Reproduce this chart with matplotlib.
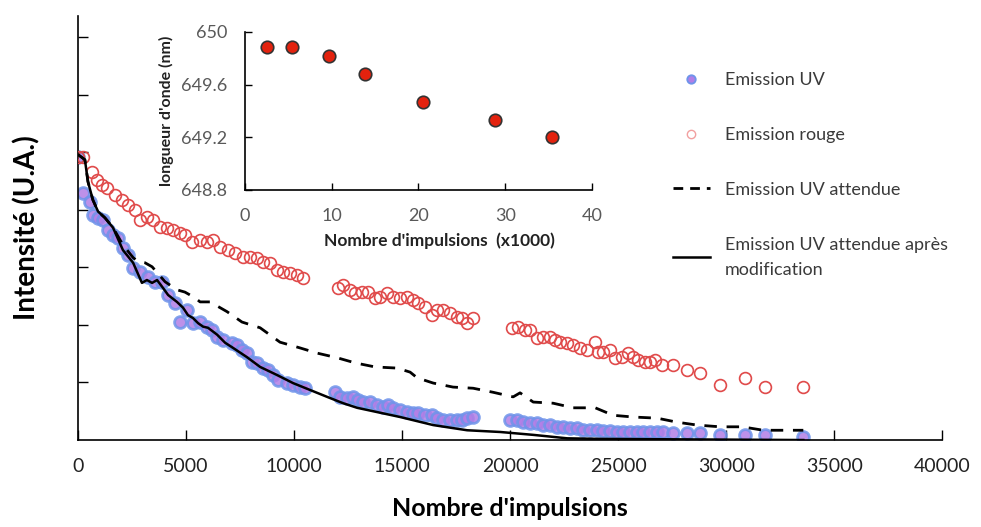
import matplotlib.pyplot as plt
from matplotlib.lines import Line2D

plt.rcParams['font.family'] = ['Lato', 'DejaVu Sans']

# Emission UV (filled circles), three measurement runs
uv_x1 = [0, 230, 560, 690, 930, 1160, 1390, 1620, 1850, 2080, 2320, 2550, 2870, 3240, 3570, 3890, 4170, 4490,
         4720, 5050, 5320, 5650, 5970, 6200, 6440, 6710, 7130, 7360, 7590, 7820, 8060, 8290, 8570, 8800, 9030,
         9260, 9680, 9950, 10280, 10510]
uv_y1 = [4.92, 4.30, 4.14, 3.91, 3.86, 3.83, 3.65, 3.57, 3.51, 3.34, 3.22, 2.99, 2.92, 2.83, 2.75, 2.75, 2.52, 2.38,
         2.05, 2.26, 2.03, 2.05, 1.97, 1.91, 1.79, 1.74, 1.69, 1.65, 1.57, 1.51, 1.36, 1.34, 1.25, 1.22, 1.13,
         1.04, 0.99, 0.96, 0.92, 0.90]
uv_x2 = [11900, 12130, 12450, 12730, 12960, 13200, 13520, 13840, 14120, 14350, 14580, 14910, 15230, 15510, 15740,
         16070, 16390, 16620, 16900, 17220, 17550, 17780, 18010, 18290]
uv_y2 = [0.83, 0.75, 0.73, 0.75, 0.70, 0.66, 0.66, 0.61, 0.57, 0.61, 0.56, 0.52, 0.49, 0.47, 0.47, 0.43, 0.43, 0.38,
         0.35, 0.35, 0.35, 0.35, 0.38, 0.40]
uv_x3 = [20000, 20330, 20600, 20930, 21250, 21530, 21850, 22180, 22460, 22780, 23100, 23380, 23710, 24030, 24310,
         24630, 24960, 25230, 25560, 25880, 26160, 26480, 26810, 27090, 27550, 28190, 28790, 29720, 30880, 31810,
         33570]
uv_y3 = [0.35, 0.35, 0.31, 0.30, 0.30, 0.26, 0.26, 0.23, 0.23, 0.21, 0.21, 0.17, 0.17, 0.17, 0.16, 0.16, 0.14, 0.14,
         0.14, 0.14, 0.14, 0.14, 0.14, 0.14, 0.12, 0.12, 0.12, 0.09, 0.09, 0.09, 0.05]

# Emission rouge (open circles)
rouge_x1 = [0, 230, 650, 880, 1110, 1340, 1710, 2040, 2320, 2640, 2870, 3190, 3470, 3800, 4120, 4400, 4720, 4950,
            5280, 5650, 5970, 6250, 6570, 6950, 7270, 7640, 7960, 8290, 8570, 8890, 9210, 9490, 9820, 10140, 10420]
rouge_y1 = [4.92, 4.92, 4.66, 4.52, 4.43, 4.38, 4.26, 4.17, 4.09, 4.00, 3.83, 3.88, 3.83, 3.70, 3.69, 3.65, 3.60,
            3.57, 3.44, 3.48, 3.44, 3.48, 3.36, 3.30, 3.25, 3.18, 3.18, 3.17, 3.10, 3.08, 2.96, 2.92, 2.90, 2.87, 2.82]
rouge_x2 = [12040, 12270, 12590, 12830, 13150, 13430, 13750, 13980, 14310, 14580, 14910, 15230, 15510, 15740, 16070,
            16390, 16620, 16900, 17220, 17550, 17780, 18010, 18290]
rouge_y2 = [2.64, 2.70, 2.61, 2.56, 2.57, 2.57, 2.47, 2.49, 2.56, 2.49, 2.47, 2.49, 2.43, 2.38, 2.31, 2.17, 2.26,
            2.26, 2.21, 2.14, 2.12, 2.03, 2.12]
rouge_x3 = [20090, 20370, 20700, 20930, 21250, 21530, 21850, 22090, 22320, 22640, 22920, 23240, 23570, 23940, 24080,
            24310, 24640, 24860, 25190, 25470, 25700, 25930, 26250, 26480, 26720, 27040, 27550, 28190, 28800, 29720,
            30880, 31810, 33570]
rouge_y3 = [1.95, 1.97, 1.91, 1.91, 1.77, 1.79, 1.79, 1.74, 1.70, 1.69, 1.65, 1.60, 1.57, 1.70, 1.53, 1.53, 1.57,
            1.43, 1.44, 1.51, 1.44, 1.39, 1.36, 1.36, 1.39, 1.30, 1.30, 1.22, 1.17, 0.96, 1.08, 0.92, 0.92]

# Emission UV attendue (dashed)
att_x = [0, 320, 460, 690, 930, 1250, 1620, 2080, 2550, 2780, 3100, 3430, 4030, 4580, 4950, 5420, 5650, 6110, 6900,
         7590, 8430, 9350, 10280, 11070, 11990, 12830, 13750, 14770, 15370, 15700, 16440, 17360, 18290, 19210,
         20140, 20460, 21070, 21990, 22920, 23940, 24770, 25700, 26810, 27730, 28660, 29720, 30740, 31720, 32640,
         33570]
att_y = [4.96, 4.87, 4.49, 4.17, 3.97, 3.86, 3.69, 3.39, 3.17, 3.10, 3.08, 3.01, 2.75, 2.61, 2.57, 2.47, 2.40, 2.40,
         2.23, 2.05, 1.95, 1.70, 1.60, 1.51, 1.43, 1.34, 1.27, 1.25, 1.18, 1.08, 0.99, 0.92, 0.90, 0.83, 0.75, 0.82,
         0.66, 0.64, 0.56, 0.56, 0.43, 0.40, 0.38, 0.31, 0.26, 0.23, 0.23, 0.17, 0.17, 0.17]

# Emission UV attendue apres modification (solid)
mod_x = [0, 320, 460, 690, 930, 1250, 1620, 2080, 2550, 2960, 3190, 3430, 3660, 3940, 4170, 4580, 4860, 5090, 5320,
         5560, 5790, 6020, 6440, 6810, 7180, 7820, 8430, 9210, 9950, 10740, 11530, 12270, 12920, 14910, 16440,
         18010, 19540, 21070, 22640, 24170, 28800, 33570]
mod_y = [4.96, 4.87, 4.49, 4.17, 3.97, 3.86, 3.69, 3.30, 3.08, 2.73, 2.78, 2.73, 2.78, 2.64, 2.52, 2.40, 2.30, 2.17,
         2.12, 2.03, 1.97, 1.95, 1.83, 1.69, 1.60, 1.44, 1.27, 1.13, 0.99, 0.87, 0.75, 0.64, 0.56, 0.40, 0.26, 0.17,
         0.14, 0.09, 0.03, 0.02, 0.01, 0.0]

# encart : longueur d'onde
enc_x = [2.5, 5.45, 9.67, 13.8, 20.5, 28.8, 35.4]
enc_y = [649.886, 649.886, 649.82, 649.68, 649.47, 649.33, 649.20]

fig = plt.figure(figsize=(9.81, 5.27), dpi=100)
ax = fig.add_axes([0.0795, 0.165, 0.881, 0.805])

uv_face = '#b27ee6'
uv_edge = '#6f94ea'
rouge = '#e04a4a'

for xs, ys in [(uv_x1, uv_y1), (uv_x2, uv_y2), (uv_x3, uv_y3)]:
    ax.plot(xs, ys, 'o', ms=8.5, mfc=uv_face, mec=uv_edge, mew=2, alpha=0.85, zorder=2)
for xs, ys in [(rouge_x1, rouge_y1), (rouge_x2, rouge_y2), (rouge_x3, rouge_y3)]:
    ax.plot(xs, ys, 'o', ms=8.5, mfc='none', mec=rouge, mew=1.2, zorder=3)
ax.plot(att_x, att_y, color='black', lw=2, dashes=(4.5, 3.5), zorder=4)
ax.plot(mod_x, mod_y, color='black', lw=1.8, zorder=5)

ax.set_xlim(0, 40000)
ax.set_ylim(0, 7.37)
ax.set_xticks(range(0, 40001, 5000))
ax.set_yticks([1, 2, 3, 4, 5, 6, 7])
ax.set_yticklabels([])
ax.tick_params(direction='in', length=7, width=1, colors='black', labelsize=14, pad=13)
ax.tick_params(axis='x', labelcolor='#222222')
for s in ['top', 'right']:
    ax.spines[s].set_visible(False)
for s in ['left', 'bottom']:
    ax.spines[s].set_linewidth(1.2)
ax.set_xlabel("Nombre d'impulsions", fontsize=18, fontweight='bold', labelpad=16)
ax.set_ylabel('Intensité (U.A.)', fontsize=20, fontweight='bold', labelpad=14)

handles = [
    Line2D([], [], ls='none', marker='o', ms=6, mfc=uv_face, mec=uv_edge, mew=1.4),
    Line2D([], [], ls='none', marker='o', ms=6, mfc='none', mec='#f2a0a0', mew=1),
    Line2D([], [], color='black', lw=2, dashes=(3.5, 2.5)),
    Line2D([], [], color='black', lw=1.8),
]
labels = ['Emission UV', 'Emission rouge', 'Emission UV attendue', 'Emission UV attendue après\nmodification']
leg = ax.legend(handles, labels, loc='upper left', bbox_to_anchor=(0.669, 0.894), bbox_transform=fig.transFigure,
                frameon=False, fontsize=13, labelspacing=2.15, handlelength=2.1, handletextpad=0.8, numpoints=1)
for t in leg.get_texts():
    t.set_color('#3a3a3a')
    t.set_linespacing(1.7)

# encart
ins = fig.add_axes([0.2497, 0.6395, 0.3538, 0.2998])
ins.plot(enc_x, enc_y, 'o', ms=9, mfc='#e3220e', mec='#333333', mew=1.2)
ins.set_xlim(0, 40)
ins.set_ylim(648.8, 650)
ins.set_xticks([0, 10, 20, 30, 40])
ins.set_yticks([648.8, 649.2, 649.6, 650])
ins.set_yticklabels(['648.8', '649.2', '649.6', '650'])
ins.tick_params(direction='in', length=5, width=1, labelsize=13, labelcolor='#595959', pad=13)
ins.patch.set_alpha(0)
for s in ['top', 'right']:
    ins.spines[s].set_visible(False)
for s in ['left', 'bottom']:
    ins.spines[s].set_linewidth(1.2)
ins.set_xlabel("Nombre d'impulsions  (x1000)", fontsize=12.5, fontweight='bold', color='#222222', labelpad=8)
ins.xaxis.set_label_coords(0.56, -0.27)
ins.set_ylabel("longueur d'onde (nm)", fontsize=11.5, fontweight='bold', color='#222222', labelpad=5)

fig.savefig('out.png', dpi=100)
